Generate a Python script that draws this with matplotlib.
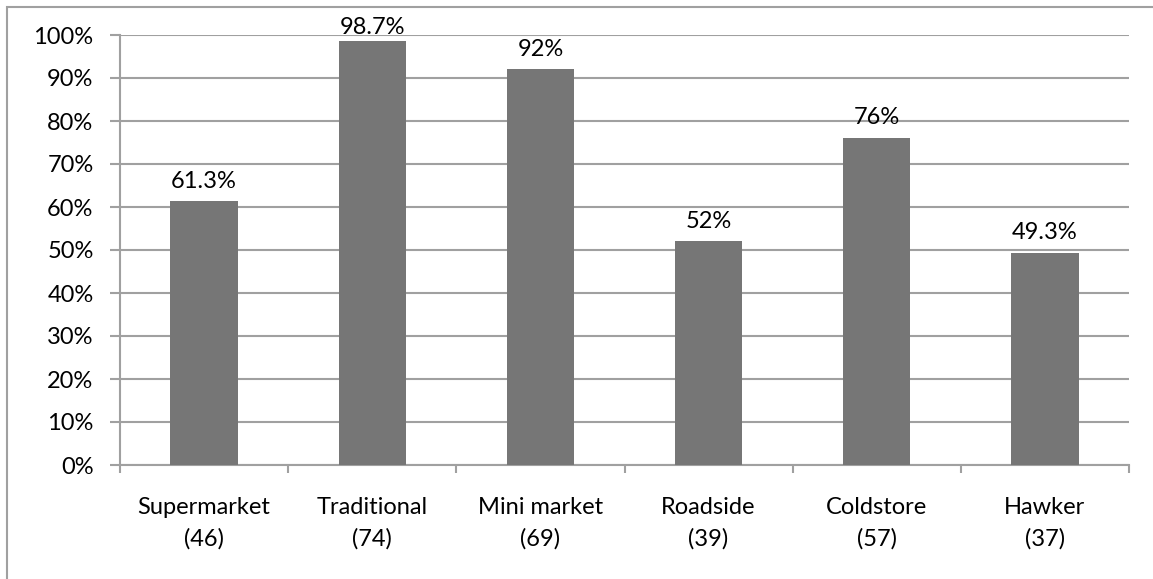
import matplotlib
matplotlib.use("Agg")
import matplotlib.pyplot as plt
from matplotlib.patches import Rectangle
from matplotlib.ticker import MultipleLocator, FuncFormatter

categories = ["Supermarket\n(46)", "Traditional\n(74)", "Mini market\n(69)",
              "Roadside\n(39)", "Coldstore\n(57)", "Hawker\n(37)"]
values = [61.3, 98.7, 92, 52, 76, 49.3]
value_labels = ["61.3%", "98.7%", "92%", "52%", "76%", "49.3%"]

plt.rcParams['font.family'] = ['Lato', 'DejaVu Sans']
fs = 17
grid_c = "#a0a0a0"

fig = plt.figure(figsize=(11.53, 5.79), dpi=100)
fig.patches.append(Rectangle((7/1153, -0.05), 1.1, 1 - 7/579 + 0.05,
                             transform=fig.transFigure, fill=False,
                             edgecolor=grid_c, linewidth=1.5))
ax = fig.add_axes([120/1153, 1 - 465/579, (1129 - 120)/1153, (465 - 35)/579])

x = list(range(len(categories)))
ax.bar(x, values, width=0.4, color="#767676", zorder=3)
for xi, v, lab in zip(x, values, value_labels):
    off = 2 if v > 95 else 7
    ax.annotate(lab, (xi, v), xytext=(0, off), textcoords="offset points",
                ha="center", va="bottom", fontsize=fs, zorder=4)

ax.set_xlim(-0.5, len(categories) - 0.5)
ax.set_ylim(0, 100)
ax.yaxis.set_major_locator(MultipleLocator(10))
ax.yaxis.set_major_formatter(FuncFormatter(lambda v, p: f"{int(v)}%"))
ax.grid(axis="y", color=grid_c, linewidth=1.5, zorder=0)
ax.set_axisbelow(True)

ax.set_xticks(x)
ax.set_xticklabels(categories, fontsize=fs, linespacing=1.6)
ax.set_xticks([i - 0.5 for i in range(len(categories) + 1)], minor=True)
ax.tick_params(axis="x", which="major", length=0, pad=23)
ax.tick_params(axis="x", which="minor", length=6, width=1.5, color=grid_c, direction="out")
ax.tick_params(axis="y", length=7, width=1.5, color=grid_c, labelsize=fs, pad=12)

for s in ["top", "right"]:
    ax.spines[s].set_visible(False)
for s in ["left", "bottom"]:
    ax.spines[s].set_color(grid_c)
    ax.spines[s].set_linewidth(1.5)

fig.savefig("out.png", dpi=100)
